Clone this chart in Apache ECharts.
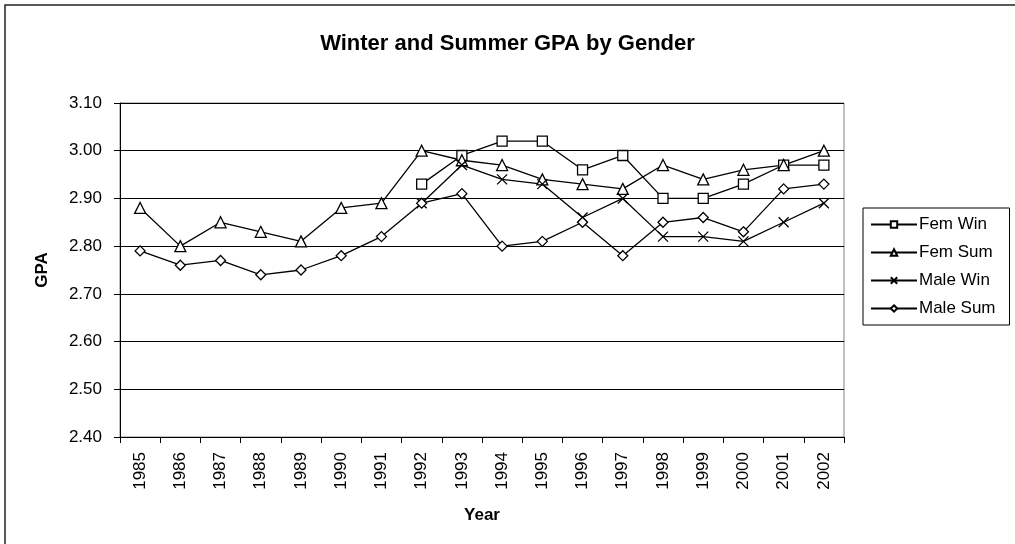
<!DOCTYPE html>
<html>
<head>
<meta charset="utf-8">
<script src="https://cdn.jsdelivr.net/npm/echarts@6/dist/echarts.min.js"></script>
<style>
  html, body { margin: 0; padding: 0; background: #fff; }
  #chart { width: 1015px; height: 544px; }
</style>
</head>
<body>
<div id="chart"></div>
<script>
var years = ['1985', '1986', '1987', '1988', '1989', '1990', '1991', '1992', '1993',
  '1994', '1995', '1996', '1997', '1998', '1999', '2000', '2001', '2002']
var femWin = [null, null, null, null, null, null, null, 2.93, 2.99,
  3.02, 3.02, 2.96, 2.99, 2.90, 2.90, 2.93, 2.97, 2.97]
var femSum = [2.88, 2.80, 2.85, 2.83, 2.81, 2.88, 2.89, 3.00, 2.98,
  2.97, 2.94, 2.93, 2.92, 2.97, 2.94, 2.96, 2.97, 3.00]
var maleWin = [null, null, null, null, null, null, null, 2.89, 2.97,
  2.94, 2.93, 2.86, 2.90, 2.82, 2.82, 2.81, 2.85, 2.89]
var maleSum = [2.79, 2.76, 2.77, 2.74, 2.75, 2.78, 2.82, 2.89, 2.91,
  2.80, 2.81, 2.85, 2.78, 2.85, 2.86, 2.83, 2.92, 2.93]

var font = 'Liberation Sans, Arial, sans-serif'
var crossPath = 'path://M0,0L10,10M10,0L0,10'

function line(name, data, symbol, size) {
  return {
    name: name,
    type: 'line',
    data: data,
    symbol: symbol,
    symbolSize: size,
    showAllSymbol: true,
    connectNulls: false,
    lineStyle: { color: '#000', width: 1.3 },
    itemStyle: { color: '#fff', borderColor: '#000', borderWidth: 1.3 },
    emphasis: { disabled: true },
    animation: false
  }
}

var chart = echarts.init(document.getElementById('chart'))
chart.setOption({
  backgroundColor: '#fff',
  textStyle: { fontFamily: font, color: '#000' },
  title: {
    text: 'Winter and Summer GPA by Gender',
    left: 'center',
    top: 28,
    textStyle: { fontFamily: font, fontSize: 22, fontWeight: 'bold', color: '#000' }
  },
  graphic: [{
    type: 'rect',
    shape: { x: 5, y: 5, width: 1200, height: 700 },
    style: { fill: 'none', stroke: '#222', lineWidth: 1.5 },
    silent: true
  }],
  legend: {
    orient: 'vertical',
    left: 863,
    top: 208,
    padding: [8, 14, 8, 7],
    itemGap: 11,
    itemWidth: 46,
    itemHeight: 8,
    borderColor: '#000',
    borderWidth: 1,
    backgroundColor: '#fff',
    textStyle: { fontFamily: font, fontSize: 17, color: '#000', padding: [0, 0, 0, -3] },
    data: ['Fem Win', 'Fem Sum', 'Male Win', 'Male Sum']
  },
  grid: {
    left: 120,
    right: 171,
    top: 103,
    bottom: 107,
    show: true,
    borderColor: '#808080',
    borderWidth: 1
  },
  xAxis: {
    type: 'category',
    data: years,
    boundaryGap: true,
    name: 'Year',
    nameLocation: 'middle',
    nameGap: 70,
    nameTextStyle: { fontFamily: font, fontSize: 17, fontWeight: 'bold', color: '#000' },
    axisLine: { lineStyle: { color: '#000', width: 1 } },
    axisTick: { show: true, length: 6, interval: 0, lineStyle: { color: '#000' } },
    axisLabel: { rotate: 90, margin: 15, interval: 0, fontSize: 17, color: '#000', fontFamily: font },
    splitLine: { show: false }
  },
  yAxis: {
    type: 'value',
    min: 2.4,
    max: 3.1,
    interval: 0.1,
    name: 'GPA',
    nameLocation: 'middle',
    nameGap: 69,
    nameRotate: 90,
    nameTextStyle: { fontFamily: font, fontSize: 17, fontWeight: 'bold', color: '#000' },
    axisLine: { show: true, lineStyle: { color: '#000', width: 1 } },
    axisTick: { show: true, length: 6, lineStyle: { color: '#000' } },
    axisLabel: {
      margin: 18,
      fontSize: 17,
      color: '#000',
      fontFamily: font,
      formatter: function (v) { return v.toFixed(2) }
    },
    splitLine: { show: true, lineStyle: { color: '#000', width: 1 } }
  },
  series: [
    line('Fem Win', femWin, 'rect', 10),
    line('Fem Sum', femSum, 'triangle', 11),
    line('Male Win', maleWin, crossPath, 10),
    line('Male Sum', maleSum, 'diamond', 10)
  ]
})
</script>
</body>
</html>
